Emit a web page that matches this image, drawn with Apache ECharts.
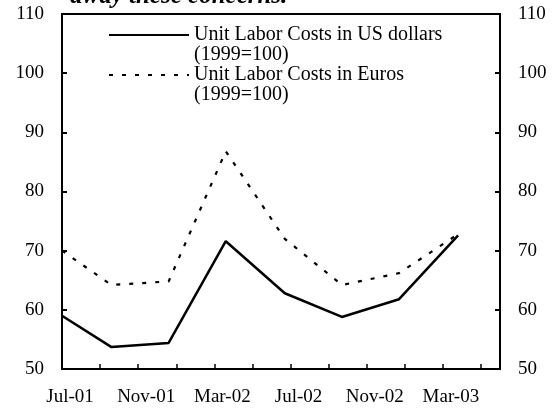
<!DOCTYPE html>
<html>
<head>
<meta charset="utf-8">
<script src="https://cdn.jsdelivr.net/npm/echarts@6/dist/echarts.min.js"></script>
<style>
  html, body { margin: 0; padding: 0; background: #fff; }
  #main { width: 560px; height: 415px; }
</style>
</head>
<body>
<div id="main"></div>
<script>
// months after Jul-01 at which each quarterly value is plotted
const monthIdx = [0, 2.6, 5.6, 8.6, 11.7, 14.7, 17.7, 20.8];
const usdCosts = [59.0, 53.7, 54.4, 71.6, 62.8, 58.8, 61.8, 72.6];
const euroCosts = [70.0, 64.2, 64.8, 86.8, 72.0, 64.2, 66.2, 72.8];
const tickLabels = ['Jul-01', 'Nov-01', 'Mar-02', 'Jul-02', 'Nov-02', 'Mar-03'];

const serif = '"Liberation Serif", "DejaVu Serif", serif';
const chart = echarts.init(document.getElementById('main'));

const pairs = (ys) => monthIdx.map((m, i) => [m, ys[i]]);

const yAxisBase = {
  type: 'value',
  min: 50,
  max: 110,
  interval: 10,
  axisLine: { show: true, lineStyle: { color: '#000', width: 2 } },
  axisTick: { show: true, inside: true, length: 5, lineStyle: { color: '#000', width: 2 } },
  splitLine: { show: false },
  axisLabel: { color: '#000', fontFamily: serif, fontSize: 19, margin: 18 }
};

const option = {
  animation: false,
  backgroundColor: '#fff',
  title: {
    text: 'away these concerns.',
    left: 70,
    top: -16,
    padding: 0,
    textStyle: { fontFamily: serif, fontSize: 25, fontWeight: 'bold', fontStyle: 'italic', color: '#000' }
  },
  legend: {
    orient: 'vertical',
    left: 108,
    top: 5,
    padding: 0,
    itemGap: -20,
    itemWidth: 80,
    itemHeight: 10,
    itemStyle: { color: 'rgba(0,0,0,0)', borderWidth: 0 },
    data: ['Unit Labor Costs in US dollars\n(1999=100)', 'Unit Labor Costs in Euros\n(1999=100)'],
    // leading blank line keeps the sample line level with the first text line
    formatter: (name) => '\n' + name,
    textStyle: { fontFamily: serif, fontSize: 20, color: '#000', lineHeight: 20 }
  },
  grid: {
    left: 62, right: 60, top: 14, bottom: 46,
    show: true, borderColor: '#000', borderWidth: 2
  },
  xAxis: {
    type: 'value',
    min: 0,
    max: 23,
    interval: 2,
    axisLine: { show: true, lineStyle: { color: '#000', width: 2 } },
    axisTick: { show: true, inside: true, length: 5, lineStyle: { color: '#000', width: 1.5 } },
    splitLine: { show: false },
    axisLabel: {
      color: '#000', fontFamily: serif, fontSize: 19, margin: 19,
      padding: [0, 0, 0, 16],
      showMaxLabel: false,
      formatter: (v) => (v % 4 === 0 ? tickLabels[v / 4] : '')
    }
  },
  yAxis: [
    Object.assign({}, yAxisBase, { position: 'left' }),
    Object.assign({}, yAxisBase, { position: 'right' })
  ],
  series: [
    {
      name: 'Unit Labor Costs in US dollars\n(1999=100)',
      type: 'line',
      symbol: 'none',
      data: pairs(usdCosts),
      lineStyle: { color: '#000', width: 2.5 },
      itemStyle: { color: '#000' }
    },
    {
      name: 'Unit Labor Costs in Euros\n(1999=100)',
      type: 'line',
      symbol: 'none',
      data: pairs(euroCosts),
      lineStyle: { color: '#000', width: 2.2, type: [4, 9] },
      itemStyle: { color: '#000' }
    }
  ]
};

chart.setOption(option);
</script>
</body>
</html>
